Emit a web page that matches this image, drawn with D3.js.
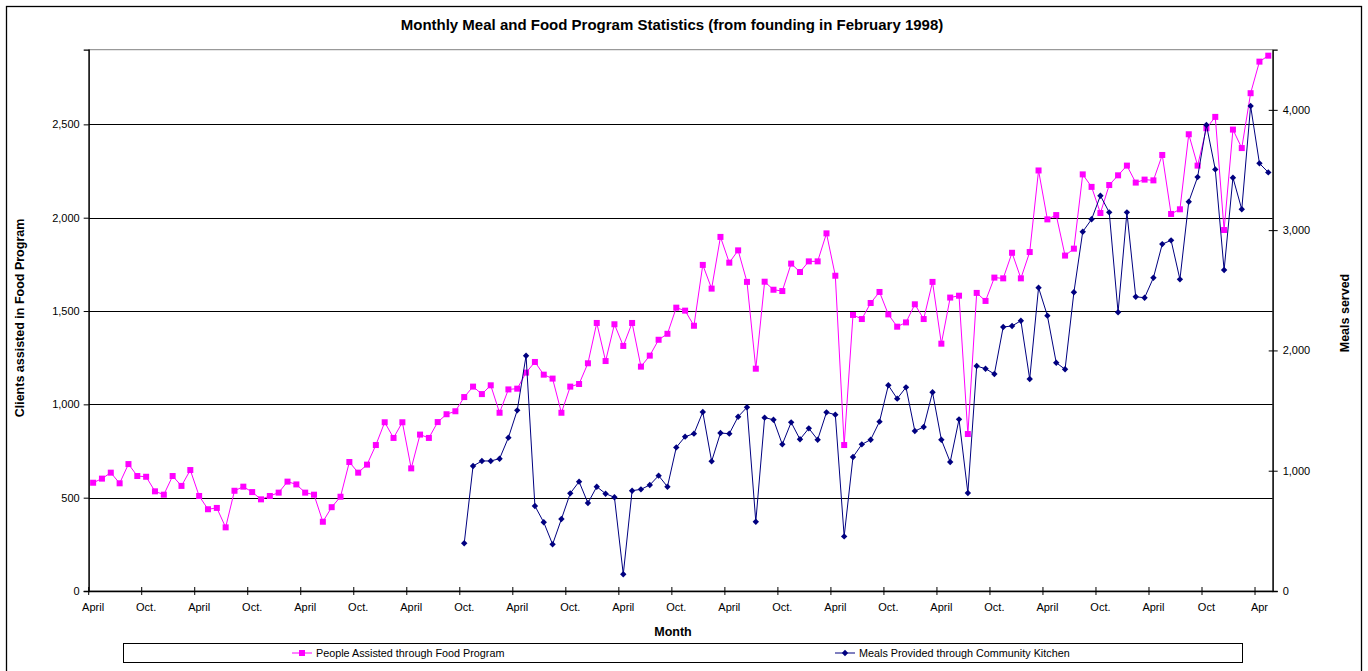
<!DOCTYPE html>
<html>
<head>
<meta charset="utf-8">
<script src="https://cdn.jsdelivr.net/npm/d3@7"></script>
<style>
  body { margin: 0; background: #fff; }
  svg { font-family: "Liberation Sans", Arial, sans-serif; }
</style>
</head>
<body>
<div id="chart-area"></div>
<script>
// months from April 1998 to May 2009, one value per month
var monthCount = 134;

var tickLabels = ["April", "Oct.", "April", "Oct.", "April", "Oct.", "April", "Oct.",
    "April", "Oct.", "April", "Oct.", "April", "Oct.", "April", "Oct.", "April", "Oct.",
    "April", "Oct.", "April", "Oct", "Apr"];

// People Assisted through Food Program (left axis)
var clients = [580, 602, 634, 577, 680, 616, 612, 534, 516, 616,
    563, 648, 509, 438, 445, 341, 537, 559, 530, 491,
    509, 527, 586, 571, 527, 516, 371, 449, 505, 691,
    634, 677, 782, 904, 820, 904, 657, 838, 820, 905,
    947, 963, 1039, 1095, 1055, 1102, 955, 1080, 1084, 1170,
    1227, 1159, 1138, 955, 1095, 1109, 1220, 1436, 1232, 1429,
    1313, 1436, 1202, 1261, 1346, 1378, 1518, 1502, 1421, 1747,
    1620, 1897, 1759, 1825, 1656, 1191, 1657, 1614, 1607, 1754,
    1709, 1766, 1766, 1916, 1689, 782, 1479, 1457, 1543, 1602,
    1482, 1416, 1439, 1536, 1457, 1656, 1325, 1572, 1582, 841,
    1597, 1554, 1679, 1675, 1812, 1675, 1816, 2253, 1991, 2014,
    1797, 1834, 2232, 2165, 2025, 2175, 2227, 2279, 2188, 2204,
    2200, 2336, 2020, 2045, 2447, 2279, 2479, 2540, 1934, 2472,
    2373, 2667, 2836, 2868];

// Meals Provided through Community Kitchen (right axis), starts October 2001
var mealsStart = 42;
var meals = [397, 1039, 1081, 1081, 1100, 1275, 1502, 1956, 707, 571,
    388, 598, 812, 909, 731, 867, 809, 779, 139, 834,
    845, 881, 959, 867, 1194, 1283, 1308, 1488, 1078, 1313,
    1308, 1449, 1527, 576, 1441, 1424, 1219, 1402, 1261, 1352,
    1258, 1485, 1466, 454, 1114, 1219, 1258, 1408, 1710, 1599,
    1693, 1330, 1363, 1652, 1258, 1072, 1427, 815, 1870, 1848,
    1804, 2195, 2203, 2247, 1762, 2522, 2289, 1898, 1843, 2483,
    2987, 3090, 3286, 3148, 2317, 3148, 2446, 2438, 2604, 2884,
    2915, 2591, 3236, 3441, 3874, 3505, 2668, 3436, 3173, 4032,
    3555, 3480];

var leftTicks = [0, 500, 1000, 1500, 2000, 2500];
var rightTicks = [0, 1000, 2000, 3000, 4000];

var W = 1368, H = 671;
var plot = { left: 88.7, right: 1272.7, top: 49.7, bottom: 591 };

var svg = d3.select("#chart-area")
    .append("svg")
    .attr("width", W)
    .attr("height", H);

// chart border
svg.append("rect")
    .attr("x", 6.5).attr("y", 6.5)
    .attr("width", 1355).attr("height", 700)
    .attr("fill", "#fff")
    .attr("stroke", "#000")
    .attr("stroke-width", 1.3);

var x = d3.scaleBand()
    .domain(d3.range(monthCount))
    .range([plot.left, plot.right])
    .padding(0);

var yLeft = d3.scaleLinear().domain([0, 2900]).range([plot.bottom, plot.top]);
var yRight = d3.scaleLinear().domain([0, 4500]).range([plot.bottom, plot.top]);

function cx(i) { return x(i) + x.bandwidth() / 2; }

// PLOT AREA
svg.append("rect")
    .attr("x", plot.left).attr("y", plot.top)
    .attr("width", plot.right - plot.left).attr("height", plot.bottom - plot.top)
    .attr("fill", "none")
    .attr("stroke", "#808080")
    .attr("stroke-width", 1);

// GRIDLINES
svg.append("g").selectAll("line")
    .data(leftTicks.filter(function (d) { return d > 0; }))
    .enter().append("line")
    .attr("x1", plot.left).attr("x2", plot.right)
    .attr("y1", function (d) { return Math.round(yLeft(d)) + 0.5; })
    .attr("y2", function (d) { return Math.round(yLeft(d)) + 0.5; })
    .attr("stroke", "#000")
    .attr("stroke-width", 1);

// LEFT AXIS
var leftAxis = svg.append("g")
    .attr("transform", "translate(" + plot.left + ",0)")
    .call(d3.axisLeft(yLeft).tickValues(leftTicks).tickSize(5).tickPadding(4)
        .tickFormat(d3.format(",")));

// RIGHT AXIS
var rightAxis = svg.append("g")
    .attr("transform", "translate(" + plot.right + ",0)")
    .call(d3.axisRight(yRight).tickValues(rightTicks).tickSize(5).tickPadding(5)
        .tickFormat(d3.format(",")));
rightAxis.selectAll(".tick line").attr("x1", -4);

// X AXIS (labels centered on months, tick marks between months)
var labelIdx = tickLabels.map(function (d, i) { return i * 6; });
var xAxis = svg.append("g")
    .attr("transform", "translate(0," + plot.bottom + ")")
    .call(d3.axisBottom(x).tickValues(labelIdx).tickSize(0).tickPadding(12)
        .tickFormat(function (d, i) { return tickLabels[i]; }));
xAxis.selectAll(".tick")
    .append("line")
    .attr("x1", -x.bandwidth() / 2).attr("x2", -x.bandwidth() / 2)
    .attr("y1", -4).attr("y2", 4)
    .attr("stroke", "#000");

[leftAxis, rightAxis, xAxis].forEach(function (a) {
    a.select(".domain").attr("stroke", "#000").attr("stroke-width", 1.3);
    a.selectAll(".tick line").attr("stroke", "#000");
    a.selectAll("text").attr("font-size", "11px").attr("fill", "#000")
        .attr("font-family", "Liberation Sans, Arial, sans-serif");
});

// PINK SERIES
var pinkLine = d3.line()
    .x(function (d, i) { return cx(i); })
    .y(function (d) { return yLeft(d); });

svg.append("path")
    .datum(clients)
    .attr("d", pinkLine)
    .attr("fill", "none")
    .attr("stroke", "#ff00ff")
    .attr("stroke-width", 1);

svg.append("g").selectAll("rect")
    .data(clients)
    .enter().append("rect")
    .attr("x", function (d, i) { return cx(i) - 3; })
    .attr("y", function (d) { return yLeft(d) - 3; })
    .attr("width", 6).attr("height", 6)
    .attr("fill", "#ff00ff");

// BLUE SERIES
var blueLine = d3.line()
    .x(function (d, i) { return cx(i + mealsStart); })
    .y(function (d) { return yRight(d); });

svg.append("path")
    .datum(meals)
    .attr("d", blueLine)
    .attr("fill", "none")
    .attr("stroke", "#000080")
    .attr("stroke-width", 1);

var diamond = "M0,-3.2L3.2,0L0,3.2L-3.2,0Z";
svg.append("g").selectAll("path")
    .data(meals)
    .enter().append("path")
    .attr("d", diamond)
    .attr("transform", function (d, i) {
        return "translate(" + cx(i + mealsStart) + "," + yRight(d) + ")";
    })
    .attr("fill", "#000080");

// TITLE AND AXIS LABELS
svg.append("text")
    .attr("x", 672).attr("y", 30)
    .attr("text-anchor", "middle")
    .attr("font-size", "15px").attr("font-weight", "bold")
    .text("Monthly Meal and Food Program Statistics (from founding in February 1998)");

svg.append("text")
    .attr("x", 673).attr("y", 636)
    .attr("text-anchor", "middle")
    .attr("font-size", "12.5px").attr("font-weight", "bold")
    .text("Month");

svg.append("text")
    .attr("transform", "translate(24,318) rotate(-90)")
    .attr("text-anchor", "middle")
    .attr("font-size", "12.5px").attr("font-weight", "bold")
    .text("Clients assisted in Food Program");

svg.append("text")
    .attr("transform", "translate(1349,313) rotate(-90)")
    .attr("text-anchor", "middle")
    .attr("font-size", "12.5px").attr("font-weight", "bold")
    .text("Meals served");

// LEGEND
var legend = svg.append("g");
legend.append("rect")
    .attr("x", 123.5).attr("y", 643.5)
    .attr("width", 1119).attr("height", 19)
    .attr("fill", "#fff")
    .attr("stroke", "#000")
    .attr("stroke-width", 1);

var lg1 = legend.append("g").attr("transform", "translate(302,653)");
lg1.append("line").attr("x1", -10).attr("x2", 10).attr("stroke", "#ff00ff");
lg1.append("rect").attr("x", -3).attr("y", -3).attr("width", 6).attr("height", 6)
    .attr("fill", "#ff00ff");
lg1.append("text").attr("x", 14).attr("y", 4)
    .attr("font-size", "10.8px")
    .text("People Assisted through Food Program");

var lg2 = legend.append("g").attr("transform", "translate(845,653)");
lg2.append("line").attr("x1", -10).attr("x2", 10).attr("stroke", "#000080");
lg2.append("path").attr("d", diamond).attr("fill", "#000080");
lg2.append("text").attr("x", 14).attr("y", 4)
    .attr("font-size", "10.8px")
    .text("Meals Provided through Community Kitchen");
</script>
</body>
</html>
